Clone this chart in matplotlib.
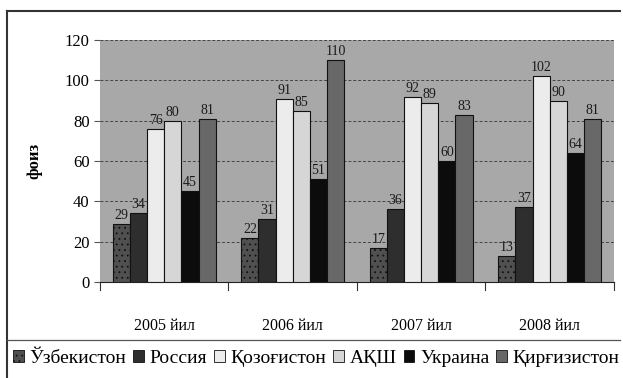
import matplotlib
matplotlib.use('Agg')
import matplotlib.pyplot as plt
import numpy as np
from matplotlib.lines import Line2D
from matplotlib.patches import Patch

# Data
years = ['2005 йил', '2006 йил', '2007 йил', '2008 йил']
countries = ['Ўзбекистон', 'Россия', 'Қозоғистон', 'АҚШ', 'Украина', 'Қирғизистон']
uzbekistan = [29, 22, 17, 13]
russia = [34, 31, 36, 37]
kazakhstan = [76, 91, 92, 102]
usa = [80, 85, 89, 90]
ukraine = [45, 51, 60, 64]
kyrgyzstan = [81, 110, 83, 81]
yticks = [0, 20, 40, 60, 80, 100, 120]

series = [uzbekistan, russia, kazakhstan, usa, ukraine, kyrgyzstan]
colors = ['#505050', '#2e2e2e', '#ececec', '#d6d6d6', '#0c0c0c', '#686868']
hatches = ['...', '', '', '', '', '']

plt.rcParams['font.family'] = ['Liberation Serif', 'DejaVu Serif']
plt.rcParams['hatch.color'] = '#383838'
plt.rcParams['hatch.linewidth'] = 0.6

fig = plt.figure(figsize=(6.23, 3.78), dpi=100)
ax = fig.add_axes([0.1605, 0.254, 0.825, 0.640])
ax.set_facecolor('#a8a8a8')

x = np.arange(len(years))
width = 0.8 / len(series)
for i, vals in enumerate(series):
    pos = x - 0.4 + width * (i + 0.5)
    ax.bar(pos, vals, width, color=colors[i], edgecolor='#111111', linewidth=0.8,
           hatch=hatches[i], zorder=3)
    for px, v in zip(pos, vals):
        ax.text(px, v + 1, str(v), ha='center', va='bottom', fontsize=10,
                color='#1a1a1a', zorder=4)

ax.set_xlim(-0.5, len(years) - 0.5)
ax.set_ylim(0, 120)
ax.set_yticks(yticks)
ax.tick_params(axis='y', labelsize=12, length=4, direction='out', color='#555555')
ax.set_xticks(x)
ax.set_xticklabels(years, fontsize=11.5)
ax.tick_params(axis='x', length=0, pad=26)
for b in np.arange(-0.5, len(years), 1.0):
    ax.plot([b, b], [0, -4], color='#333333', lw=0.8, clip_on=False)
ax.grid(axis='y', color='#444444', linestyle=(0, (3, 2)), linewidth=0.7, zorder=1)
for side in ['top', 'right', 'left']:
    ax.spines[side].set_visible(False)
ax.spines['bottom'].set_color('#222222')
ax.set_ylabel('фоиз', fontsize=12, fontweight='bold', labelpad=16)

# Outer frame and legend separator
fig.add_artist(Line2D([0.012, 0.995], [0.972, 0.972], color='#333333', lw=1.5))
fig.add_artist(Line2D([0.012, 0.012], [0.0, 0.972], color='#333333', lw=1.5))
fig.add_artist(Line2D([0.012, 0.995], [0.10, 0.10], color='#555555', lw=0.9))

handles = [Patch(facecolor=c, edgecolor='#111111', hatch=h, linewidth=0.6)
           for c, h in zip(colors, hatches)]
fig.legend(handles, countries, loc='center', bbox_to_anchor=(0.508, 0.052), ncol=6,
           frameon=False, fontsize=14, handlelength=0.55, handleheight=0.55,
           handletextpad=0.3, columnspacing=0.35, borderpad=0)

fig.savefig('out.png', dpi=100)
